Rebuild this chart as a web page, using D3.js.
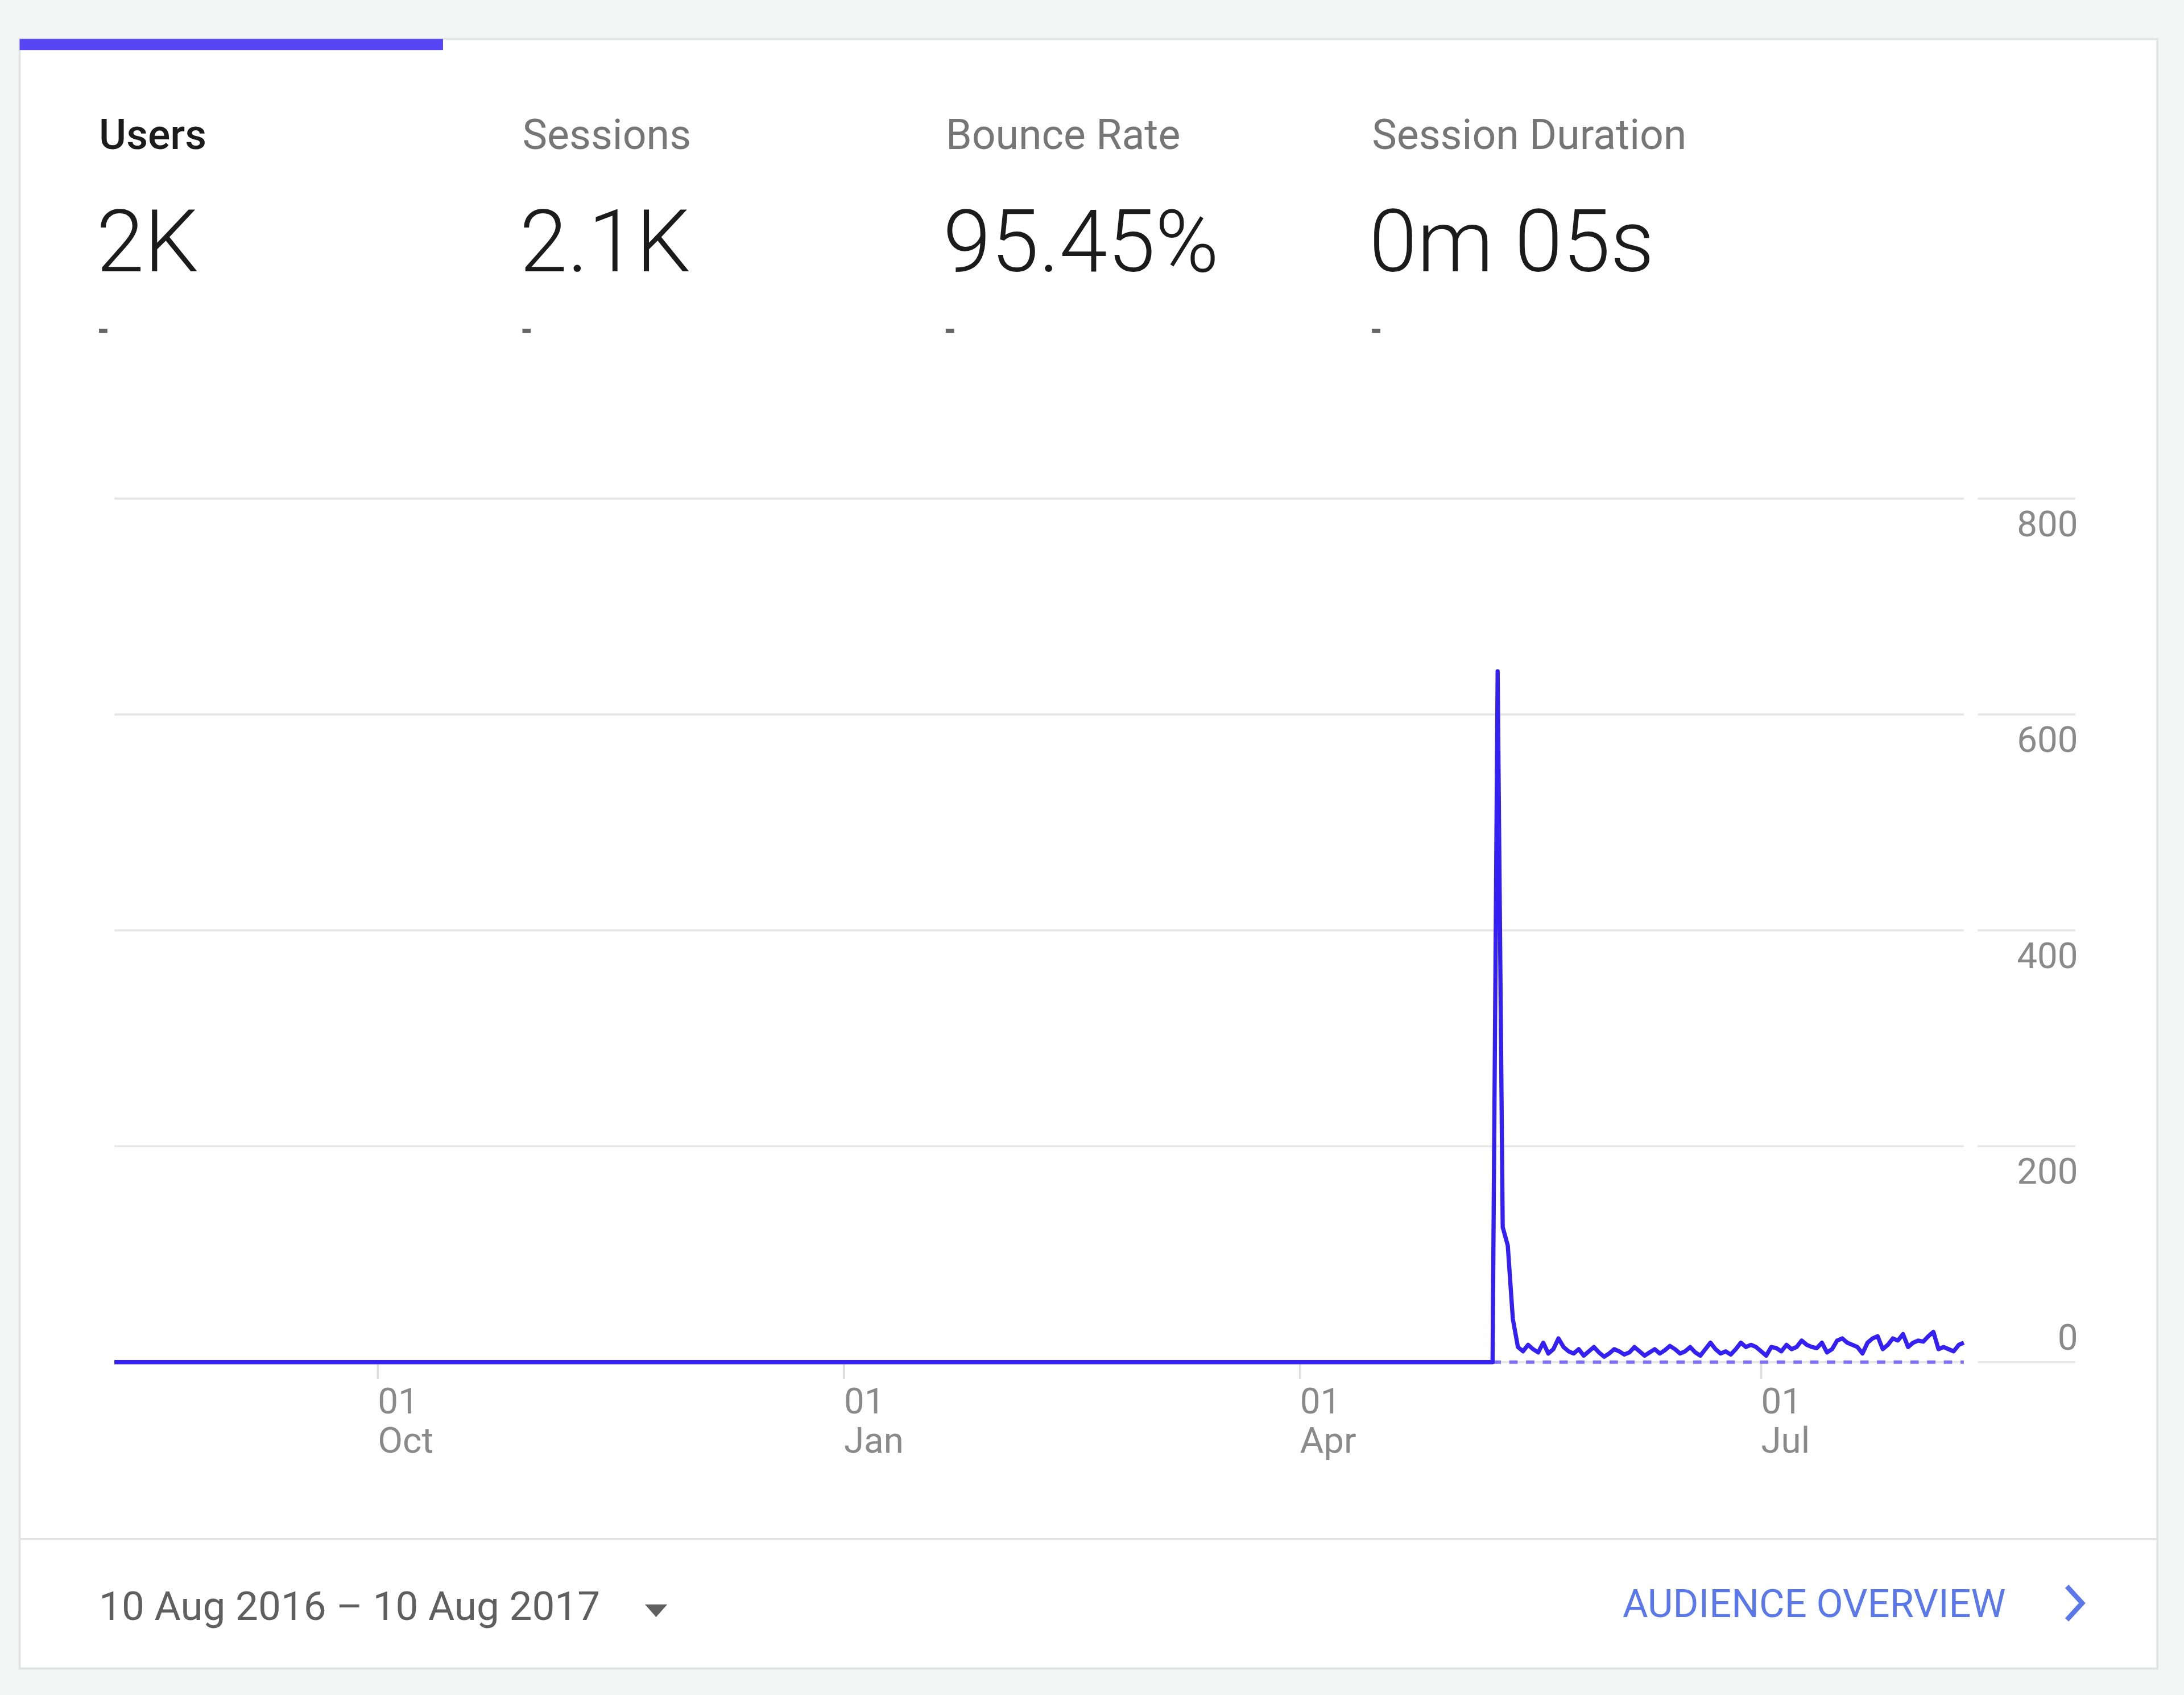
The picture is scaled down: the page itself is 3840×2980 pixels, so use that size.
<!DOCTYPE html>
<html><head><meta charset="utf-8">
<script src="https://cdn.jsdelivr.net/npm/d3@7"></script>
<style>html,body{margin:0;padding:0;background:#f4f5f5}svg{display:block}</style>
</head><body>
<svg id="chart" width="3840" height="2980" viewBox="0 0 1568 1217"></svg>
<script>
const metricNames = ["Users", "Sessions", "Bounce Rate", "Session Duration"];
const metricValues = ["2K", "2.1K", "95.45%", "0m 05s"];
const yTicks = [0, 200, 400, 600, 800];
const xTickDates = ["2016-10-01", "2017-01-01", "2017-04-01", "2017-07-01"];
const xTickLabels = [["01", "Oct"], ["01", "Jan"], ["01", "Apr"], ["01", "Jul"]];
// daily users from 9 May 2017 to 10 Aug 2017 (all earlier days are 0)
const spikeStart = "2017-05-09";
const recentUsers = [0, 640, 125, 108, 40, 14, 10, 16, 12, 9, 18, 8, 12, 22, 14, 10, 8, 12, 6, 10,
  14, 9, 5, 8, 12, 10, 7, 9, 14, 10, 6, 9, 12, 8, 11, 15, 12, 8, 10, 14, 9, 6, 12, 18, 12, 8, 10, 7,
  12, 18, 14, 16, 14, 10, 6, 14, 13, 10, 16, 12, 14, 20, 16, 14, 13, 18, 9, 12, 20, 22, 18, 16, 14,
  8, 18, 22, 24, 12, 16, 22, 20, 26, 14, 18, 20, 19, 24, 28, 12, 14, 12, 10, 16, 18];

const parse = d3.timeParse("%Y-%m-%d");
const start = parse("2016-08-10"), end = parse("2017-08-10");
const s0 = parse(spikeStart);
const series = d3.timeDays(start, s0).map(d => ({date: d, v: 0}))
  .concat(recentUsers.map((v, i) => ({date: d3.timeDay.offset(s0, i), v})));

const svg = d3.select("#chart");
const font = "Roboto, 'Noto Sans', sans-serif";

// card
svg.append("rect").attr("x", 14).attr("y", 28).attr("width", 1535).attr("height", 1170)
  .attr("fill", "#fff").attr("stroke", "#e2e3e3").attr("stroke-width", 1.5);
svg.append("rect").attr("x", 14).attr("y", 28).attr("width", 304).attr("height", 8).attr("fill", "#5645f5");

// metrics
const colX = [71, 375, 679, 985];
metricNames.forEach((n, i) => {
  svg.append("text").attr("x", colX[i]).attr("y", 107).text(n)
    .attr("font-family", font).attr("font-size", 30).attr("font-weight", i === 0 ? 500 : 400)
    .attr("fill", i === 0 ? "#1b1b1b" : "#767676");
  svg.append("text").attr("x", colX[i] - 2).attr("y", 195).text(metricValues[i])
    .attr("font-family", font).attr("font-size", 62).attr("font-weight", 300).attr("fill", "#1b1b1b");
  svg.append("rect").attr("x", colX[i]).attr("y", 236).attr("width", 6).attr("height", 3).attr("fill", "#666");
});

// scales
const x = d3.scaleTime().domain([start, end]).range([82, 1410]);
const y = d3.scaleLinear().domain([0, 800]).range([978, 358]);

const grid = svg.append("g");
yTicks.forEach(t => {
  grid.append("line").attr("x1", 82).attr("x2", 1410).attr("y1", y(t)).attr("y2", y(t))
    .attr("stroke", "#e6e6e6").attr("stroke-width", 1.5);
  grid.append("line").attr("x1", 1420).attr("x2", 1490).attr("y1", y(t)).attr("y2", y(t))
    .attr("stroke", "#e6e6e6").attr("stroke-width", 1.5);
  grid.append("text").attr("x", 1492).attr("y", t === 0 ? y(t) - 9 : y(t) + 27).attr("text-anchor", "end")
    .text(t).attr("font-family", font).attr("font-size", 26).attr("fill", "#8a8a8a");
});

xTickDates.forEach((d, i) => {
  const xx = x(parse(d));
  svg.append("line").attr("x1", xx).attr("x2", xx).attr("y1", 978).attr("y2", 990)
    .attr("stroke", "#ddd").attr("stroke-width", 1.5);
  const t = svg.append("text").attr("x", xx).attr("font-family", font).attr("font-size", 26).attr("fill", "#8a8a8a");
  t.append("tspan").attr("x", xx).attr("y", 1015).text(xTickLabels[i][0]);
  t.append("tspan").attr("x", xx).attr("y", 1043).text(xTickLabels[i][1]);
});

// previous period dashed line
svg.append("path")
  .datum(series.filter(d => d.date >= s0))
  .attr("d", d3.line().x(d => x(d.date)).y(() => y(0)))
  .attr("fill", "none").attr("stroke", "#7d6ff2").attr("stroke-width", 2.5).attr("stroke-dasharray", "6,6");

svg.append("path").datum(series)
  .attr("d", d3.line().x(d => x(d.date)).y(d => y(d.v)))
  .attr("fill", "none").attr("stroke", "#3420f2").attr("stroke-width", 3).attr("stroke-linejoin", "round");

// footer
svg.append("line").attr("x1", 14).attr("x2", 1549).attr("y1", 1105).attr("y2", 1105)
  .attr("stroke", "#e2e2e2").attr("stroke-width", 1.5);
svg.append("text").attr("x", 71).attr("y", 1163).text("10 Aug 2016 – 10 Aug 2017")
  .attr("font-family", font).attr("font-size", 29).attr("fill", "#5f5f5f");
svg.append("path").attr("d", "M463,1152 L479,1152 L471,1161 Z").attr("fill", "#5f5f5f");
svg.append("text").attr("x", 1440).attr("y", 1161).attr("text-anchor", "end").text("AUDIENCE OVERVIEW")
  .attr("font-family", font).attr("font-size", 28).attr("fill", "#5b78ea");
svg.append("path").attr("d", "M1484,1139 L1495,1151 L1484,1163").attr("fill", "none")
  .attr("stroke", "#5b78ea").attr("stroke-width", 3.5);
</script>
</body></html>
